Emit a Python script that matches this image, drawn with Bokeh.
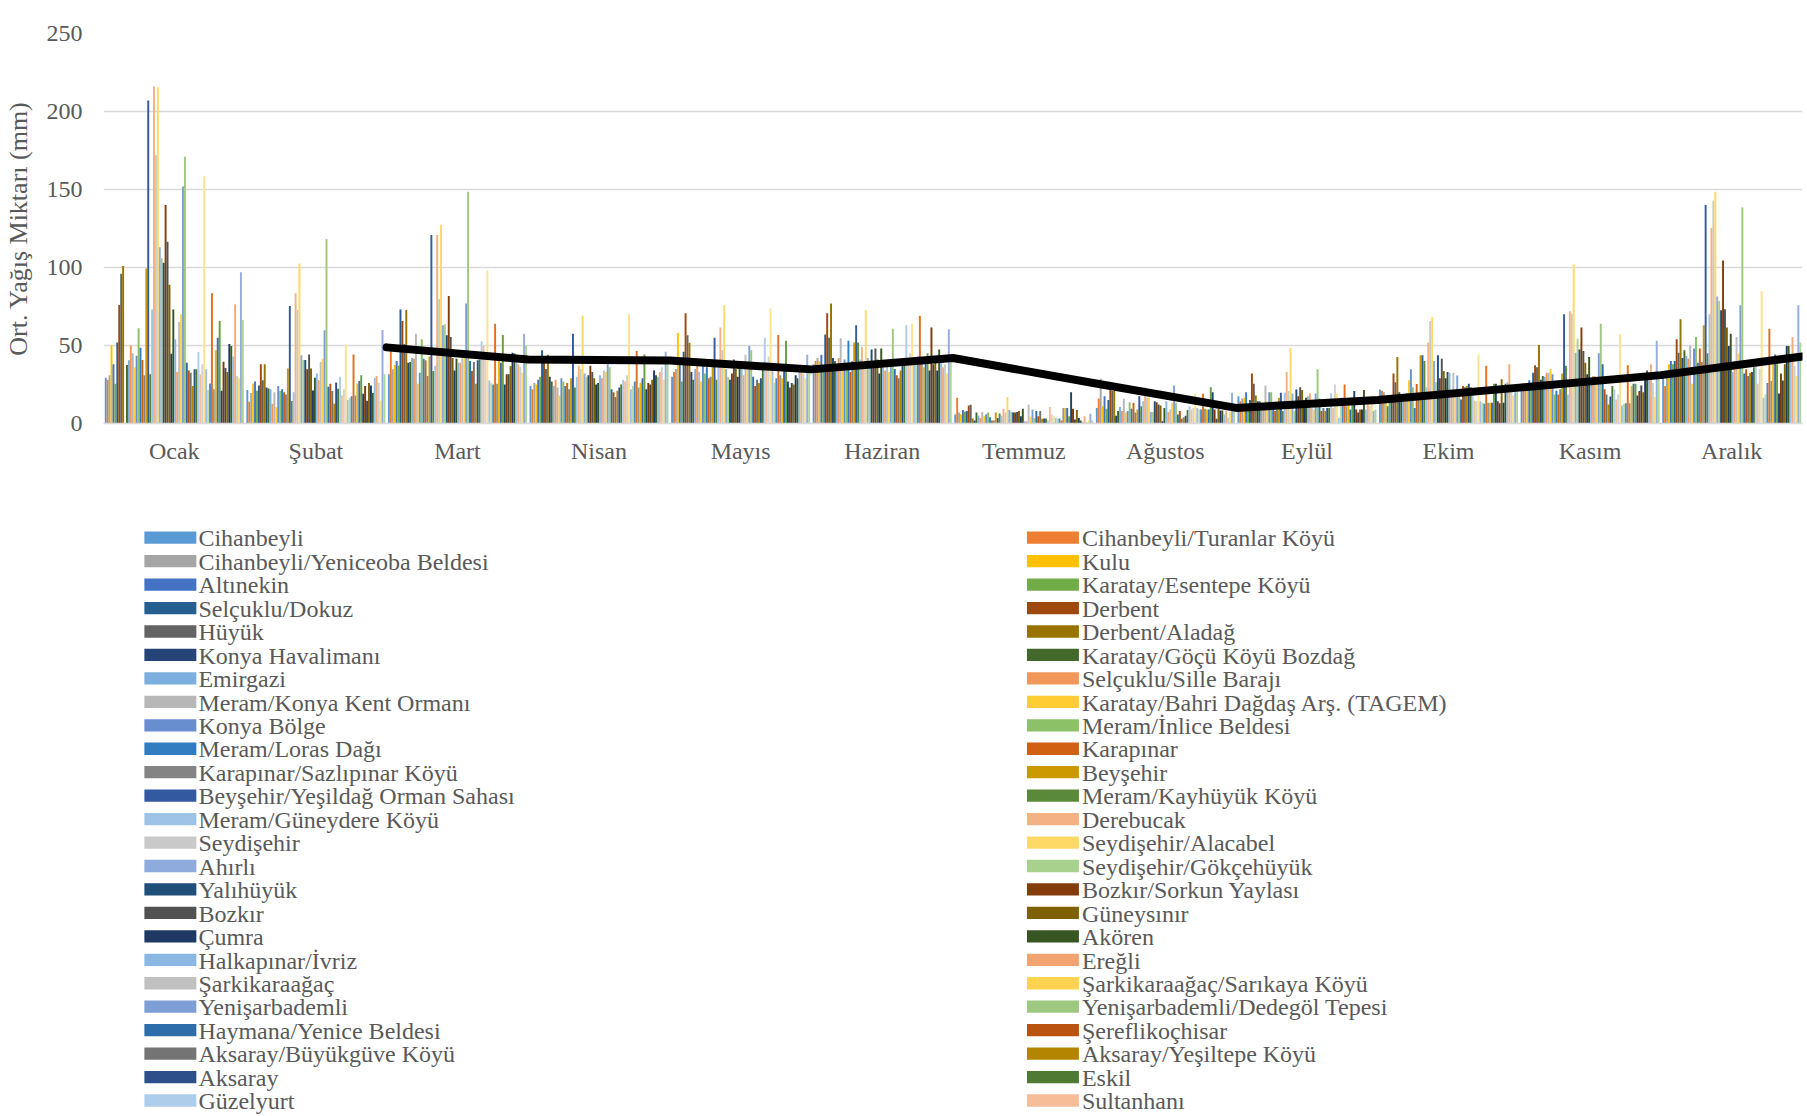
from bokeh.plotting import figure
from bokeh.models import Range1d, FixedTicker, ColumnDataSource
from bokeh.layouts import column
from bokeh.embed import file_html
from bokeh.resources import INLINE
from bokeh.core.properties import value

months = ["Ocak", "Şubat", "Mart", "Nisan", "Mayıs", "Haziran", "Temmuz",
          "Ağustos", "Eylül", "Ekim", "Kasım", "Aralık"]

# station names visible in the (clipped) legend, in series order
stations = [
    "Cihanbeyli", "Cihanbeyli/Turanlar Köyü", "Cihanbeyli/Yeniceoba Beldesi", "Kulu",
    "Altınekin", "Karatay/Esentepe Köyü", "Selçuklu/Dokuz", "Derbent", "Hüyük",
    "Derbent/Aladağ", "Konya Havalimanı", "Karatay/Göçü Köyü Bozdağ", "Emirgazi",
    "Selçuklu/Sille Barajı", "Meram/Konya Kent Ormanı", "Karatay/Bahri Dağdaş Arş. (TAGEM)",
    "Konya Bölge", "Meram/İnlice Beldesi", "Meram/Loras Dağı", "Karapınar",
    "Karapınar/Sazlıpınar Köyü", "Beyşehir", "Beyşehir/Yeşildağ Orman Sahası",
    "Meram/Kayhüyük Köyü", "Meram/Güneydere Köyü", "Derebucak", "Seydişehir",
    "Seydişehir/Alacabel", "Ahırlı", "Seydişehir/Gökçehüyük", "Yalıhüyük",
    "Bozkır/Sorkun Yaylası", "Bozkır", "Güneysınır", "Çumra", "Akören",
    "Halkapınar/İvriz", "Ereğli", "Şarkikaraağaç", "Şarkikaraağaç/Sarıkaya Köyü",
    "Yenişarbademli", "Yenişarbademli/Dedegöl Tepesi", "Haymana/Yenice Beldesi",
    "Şereflikoçhisar", "Aksaray/Büyükgüve Köyü", "Aksaray/Yeşiltepe Köyü", "Aksaray",
    "Eskil", "Güzelyurt", "Sultanhanı",
]

palette = [
    "#5B9BD5", "#ED7D31", "#A5A5A5", "#FFC000", "#4472C4", "#70AD47",
    "#255E91", "#9E480E", "#636363", "#997300", "#264478", "#43682B",
    "#7CAFDD", "#F1975A", "#B7B7B7", "#FFCD33", "#698ED0", "#8CC168",
    "#327DC2", "#D26012", "#848484", "#CC9A00", "#335AA1", "#5A8A39",
    "#9DC3E6", "#F4B183", "#C9C9C9", "#FFD966", "#8FAADC", "#A9D18E",
    "#1F4E79", "#843C0C", "#525252", "#7F6000", "#203864", "#375623",
    "#8AB8E2", "#F3A36F", "#C0C0C0", "#FFD34F", "#7E9ED6", "#9CC87F",
    "#2C6DAA", "#BA5210", "#747474", "#B38500", "#2D4F8A", "#4E7A34",
    "#ADCDEA", "#F6BE98", "#D3D3D3", "#FFE28A", "#A7BCE6", "#BBDCA6",
    "#4A8BC9", "#E06F1E", "#959595", "#F2B500", "#3C67B4", "#64A03F",
    "#1B4569", "#7B3A0B", "#474747", "#866500", "#1F3563", "#3A5B24",
    "#94BEE3", "#F4AB7C", "#CDCDCD", "#FFDC74", "#94ADDE", "#AFD498",
]

# monthly mean precipitation (mm), one value per station series (72 series)
ocak = [29.3, 28, 31, 50, 38, 25.5, 52, 76, 96, 101, 0, 37.5, 40.5, 50, 45, 36, 43.5, 61, 48.6, 40.7,
        31, 99.4, 207, 31.5, 73, 216, 172, 215.6, 113, 106, 103, 140, 116.5, 89, 44.7, 73, 54, 33, 65, 70,
        152, 171, 39, 34, 32.5, 24, 34.7, 34.7, 45.8, 31.5, 38, 158.5, 34.7, 21.4, 25.7, 83.5, 22, 47, 55, 65.7,
        21, 39.6, 35.5, 33, 51, 49.7, 43, 76.4, 30.4, 29, 97, 66.4]
subat = [21.4, 14, 19.5, 25.7, 27, 21, 24.4, 38, 27.8, 38, 23, 22.5, 22, 12.6, 20, 10.5, 24, 20.8, 22, 20,
         18.6, 35.3, 75.4, 14.5, 20, 83.5, 72.8, 102.6, 43.7, 40.7, 40.7, 34.7, 44.3, 35.3, 21.2, 29.3, 32, 27.8, 39.4, 41.5,
         59.7, 118.2, 23.5, 25.5, 20.8, 12.6, 26.3, 22.3, 30, 18, 22, 50.7, 15, 16.5, 17.5, 44.3, 18, 25.6, 27.2, 31,
         19, 24, 14.6, 26, 24.4, 19.5, 29.3, 30.4, 26, 14.6, 60, 31.5]
mart = [31.5, 46.5, 34.7, 37.5, 40, 37, 73, 65.7, 51, 72.8, 39, 39.4, 42, 41.5, 57.6, 25.5, 32.5, 54, 41.5, 40.5,
        30.4, 43, 120.8, 33.6, 37, 120.8, 79.7, 127.4, 63, 63.6, 56.5, 81.8, 55.5, 42, 34, 41.5, 39, 39, 42, 42.6,
        76.9, 148.6, 40, 33.6, 39.4, 25.5, 40.5, 41, 52.5, 49.7, 42.6, 97.9, 27.6, 26, 25, 64, 25.5, 40, 39, 56.7,
        25, 31.5, 31.5, 36.8, 45.4, 44.8, 40, 38, 36, 32.5, 57.6, 50]
nisan = [24, 22, 26, 25, 28, 30, 47, 40, 35, 44, 30, 27, 24, 28, 23, 18, 29, 27, 24, 26,
         22, 29, 57.6, 23, 30, 37, 35, 69, 32, 30, 31, 37, 33, 29, 25, 26, 31, 29, 34, 33,
         38, 36, 22, 20, 17, 21, 23, 25, 28, 27, 31, 70, 22, 24, 27, 46.5, 23, 26, 29, 44.3,
         22, 26, 25, 28, 34, 31, 30, 33, 36, 28, 46, 38]
mayis = [30, 33, 35, 58, 38, 27, 46, 70.6, 56.5, 51.8, 33, 28, 35, 38, 33, 27, 37, 32, 36, 29,
         30, 37, 55, 28, 40, 61.5, 47, 75.8, 35, 30, 28, 32, 41, 35, 30, 37, 36, 31, 44, 40,
         49.7, 47, 30, 24, 28, 26, 29, 35, 55, 36, 43, 73.7, 34, 26, 29, 56.7, 31, 29, 35, 53,
         27, 23, 26, 25, 31, 29, 34, 37, 32, 29, 44, 35]
haziran = [38, 40, 42, 40, 44, 36, 57, 70.6, 55, 77, 42, 40, 36, 42, 54.6, 37, 41, 38, 53, 33,
           40, 52, 63, 52, 41, 49, 38, 72.6, 42, 36, 47.5, 39, 48, 41, 32, 48, 36, 34, 40, 33,
           41, 60.8, 35, 31, 29, 34, 37, 40, 63, 42, 45, 64, 41, 38, 43, 69, 39, 36, 40, 45,
           34, 61.5, 38, 41, 34, 47.5, 39, 36, 38, 32, 60.4, 44]
temmuz = [5.8, 16.5, 7, 6, 8.6, 7.5, 8, 11.6, 12, 3.2, 2, 7, 5, 3.6, 7.3, 5, 6, 7, 4, 2,
          2, 7, 3.6, 6.4, 5, 9.4, 7, 17, 8.6, 7.5, 7, 7, 7.3, 8, 4.7, 9.4, 1.5, 1.5, 12.2, 4.3,
          9, 3.6, 8, 4.7, 8, 3, 3.2, 3.2, 2, 10.5, 5.8, 4.7, 3.6, 3.2, 3.2, 2, 10, 10, 10, 4.7,
          20, 9.4, 2.6, 8.6, 3.6, 2, 1, 4.7, 1, 2, 6.2, 2]
agustos = [10, 16, 28.7, 11, 17.5, 9.4, 15, 21.8, 20.8, 20.8, 5, 8, 10.5, 8, 15.8, 7, 8, 13.7, 9.4, 13.3,
           7, 9, 17.5, 11, 14.3, 23, 16.5, 16.5, 7.3, 7.3, 14.3, 13.7, 12.2, 11.6, 1.5, 10, 14.3, 7.3, 9, 13.3,
           24.4, 13.3, 5.8, 8, 3, 4, 5, 8.6, 11, 9, 10, 19.3, 10, 9, 9, 19, 9.4, 9, 9, 23.3,
           20, 9, 3, 9.4, 8.4, 8.4, 5.8, 8.4, 3.6, 7.3, 19.7, 10]
eylul = [17.5, 14.3, 16, 16.5, 20, 9.4, 15, 32, 25.5, 18, 14.3, 14.3, 13.3, 10, 24.4, 14.3, 20, 20, 10, 8,
         9, 16.5, 19.7, 8, 19.7, 33, 20.8, 48.6, 19.3, 8, 21.8, 17.5, 23.3, 21.4, 12.2, 16.5, 17.5, 19.3, 10, 9,
         19.3, 34.7, 15.8, 8, 10, 8, 10, 10, 19.3, 10, 25, 19.3, 3.6, 16.5, 16.5, 25, 11, 12, 9, 15.8,
         20.8, 9, 7, 9, 9, 21.4, 9, 12, 11, 18, 8, 9]
ekim = [21.8, 21, 20, 18, 11, 14, 16, 32, 26.5, 42.6, 20, 18, 15, 17, 19.6, 27.8, 34.7, 23.3, 10, 25.4,
        18, 43.7, 43.7, 40, 23.3, 52, 65.7, 68.3, 40, 26.5, 43.7, 29, 41.5, 33.6, 29, 33, 32.5, 18.6, 32.5, 18.6,
        30.8, 18.6, 15.4, 24, 23.3, 24, 25.5, 23.3, 22.9, 14.6, 14.3, 44.3, 14.3, 13.3, 12.6, 37, 13.3, 13.3, 13.3, 25.5,
        25.5, 14.3, 13, 28.4, 13.3, 25.5, 26.5, 38, 22, 18, 20, 25.5]
kasim = [24, 25.5, 24.4, 26, 27.8, 25, 32.5, 37.3, 36, 50.3, 28, 30.4, 30, 32.5, 32.5, 35, 31.5, 18.6, 21, 18.6,
         22, 32, 70, 37, 18.6, 72, 70.4, 102, 45.4, 54.4, 47.5, 61.5, 46.5, 39, 31.5, 42.6, 28, 30.4, 30.4, 26,
         45, 64, 38, 22, 18.6, 12.2, 17.3, 24, 22, 15.4, 18.6, 57.4, 11.6, 12.5, 13, 37.3, 13, 24, 25.5, 25.5,
         18, 20.8, 24.4, 20, 28.4, 34, 31.5, 38, 26, 17, 53, 32.5]
aralik = [30, 24, 30, 38, 40, 38, 40, 54, 45.4, 66.8, 42, 47, 43.3, 41.5, 50, 25.5, 48, 55.5, 39, 48,
          39.4, 63, 140, 45, 70, 125.3, 143, 148.6, 81.4, 78.6, 72.6, 104.5, 73.2, 61.5, 49.7, 57.6, 33, 40, 55.5, 44.8,
          75.8, 138.5, 32, 34.7, 30.4, 32.5, 33, 36, 40, 25.5, 35, 85, 16.5, 18.6, 26, 60.8, 27.2, 38, 44.3, 38,
          19.3, 32, 27.6, 38, 49.7, 49.7, 44.3, 55.5, 36.8, 30.4, 75.8, 52]

monthly = [ocak, subat, mart, nisan, mayis, haziran, temmuz, agustos, eylul, ekim, kasim, aralik]

# black average line (drawn from Şubat onward, at the right edge of each month group)
line_months = [1, 2, 3, 4, 5, 6, 7, 8, 9, 10, 11]
line_values = [48.8, 41, 40.4, 34.7, 42, 25.8, 10, 15, 23, 31, 43]

FONT = "Liberation Serif"
TXT = "#595959"
GRID = "#d9d9d9"

n_series = len(ocak)
group = 0.982
w = group / n_series
xs, tops, cols = [], [], []
for m, vals in enumerate(monthly):
    for j, v in enumerate(vals):
        xs.append(m - group / 2 + w * (j + 0.5))
        tops.append(v)
        cols.append(palette[j])
src = ColumnDataSource(dict(x=xs, top=tops, color=cols))

W = 1807
H1 = 480
FL, FR = 102, 5
p = figure(width=W, height=H1, output_backend="svg", toolbar_location=None,
           x_range=Range1d(-0.5, 11.5), y_range=Range1d(0, 250),
           min_border_left=FL, min_border_right=FR, min_border_top=33, min_border_bottom=57)
p.vbar(x="x", top="top", bottom=0, width=w, fill_color="color", line_color=None, source=src)
p.line(x=[m + 0.5 for m in line_months], y=line_values, line_color="black", line_width=8,
       line_join="round", line_cap="round")

p.xaxis.ticker = FixedTicker(ticks=list(range(len(months))))
p.xaxis.major_label_overrides = {i: months[i] for i in range(len(months))}
p.yaxis.ticker = FixedTicker(ticks=[0, 50, 100, 150, 200, 250])
for ax in (p.xaxis[0], p.yaxis[0]):
    ax.major_tick_line_color = None
    ax.minor_tick_line_color = None
    ax.major_tick_out = 0
    ax.major_label_text_font = FONT
    ax.major_label_text_font_size = "24px"
    ax.major_label_text_color = TXT
p.xaxis.axis_line_color = GRID
p.xaxis.axis_line_width = 1.5
p.xaxis.major_label_standoff = 14
p.yaxis.axis_line_color = None
p.yaxis.major_label_standoff = 21
p.yaxis.axis_label = "Ort. Yağış Miktarı (mm)"
p.yaxis.axis_label_text_font = FONT
p.yaxis.axis_label_text_font_size = "26px"
p.yaxis.axis_label_text_font_style = "normal"
p.yaxis.axis_label_text_color = TXT
p.yaxis.axis_label_standoff = 11
p.xgrid.grid_line_color = None
p.ygrid.grid_line_color = GRID
p.ygrid.grid_line_width = 1.5
p.outline_line_color = None
p.background_fill_color = "white"
p.border_fill_color = "white"

# legend panel (two columns, row-major like the original, clipped at the bottom);
# its ranges are in page pixels
H2 = 1116 - H1
p2 = figure(width=W, height=H2, output_backend="svg", toolbar_location=None,
            x_range=Range1d(FL, W - FR), y_range=Range1d(H1 + H2, H1),
            x_axis_type=None, y_axis_type=None,
            min_border_left=FL, min_border_right=FR, min_border_top=0, min_border_bottom=0)
p2.outline_line_color = None
p2.background_fill_color = "white"
p2.border_fill_color = "white"
p2.grid.visible = False

row0, row_step = 537.2, 23.45
cols_def = [(168.9, 197.0), (1052.0, 1081.0)]
for c, (sw_x, tx_x) in enumerate(cols_def):
    names = stations[c::2]
    colors = palette[c:len(stations):2]
    ys = [row0 + row_step * i for i in range(len(names))]
    p2.rect(x=[sw_x] * len(names), y=ys, width=52, height=12.3,
            fill_color=colors, line_color=None)
    p2.text(x=[tx_x] * len(names), y=[y + 0.7 for y in ys], text=names,
            text_font=value(FONT), text_font_size="24px", text_color=TXT,
            text_baseline="alphabetic", text_align="left")

layout = column(p, p2, spacing=0)
open("out.html", "w").write(file_html(layout, INLINE))
